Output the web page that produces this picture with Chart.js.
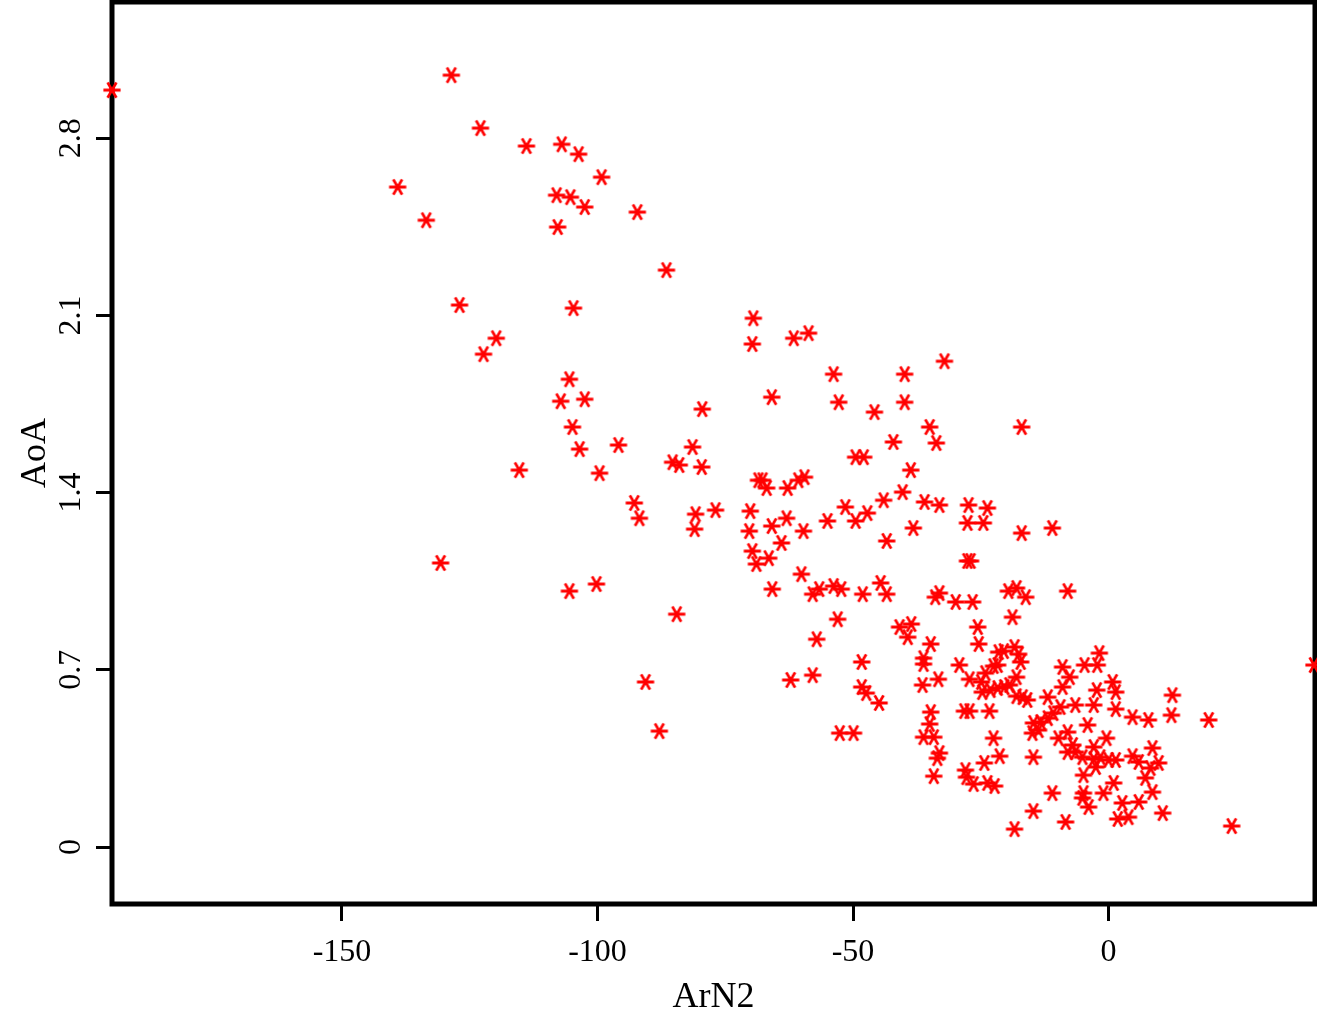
<!DOCTYPE html>
<html><head><meta charset="utf-8">
<script src="https://cdn.jsdelivr.net/npm/chart.js@4"></script>
<style>html,body{margin:0;padding:0;background:#fff}#wrap{width:1317px;height:1017px}</style>
</head><body><div id="wrap"><canvas id="c" width="1317" height="1017"></canvas></div>
<script>
const xTitle = 'ArN2';
const yTitle = 'AoA';
const xTickValues = [-150, -100, -50, 0];
const yTickValues = [0, 0.7, 1.4, 2.1, 2.8];
const xRange = [-195, 40.4];
const yRange = [-0.225, 3.338];

const xValues = [
-195.0, -128.6, -122.9, -113.9, -107.0, -103.7, -99.2, -139.1, -108.0, -105.3, -102.5, -133.5, -92.2, -107.8, -86.5, -127.0, -104.7, -119.8, -122.3, -105.5, -107.2, -102.5, -79.5, -104.9, -81.4, -103.5, -95.9, -115.3, -99.6, -85.3, -84.0, -79.6, -92.8, -91.8, -80.8, -76.9, -81.0, -130.7, -105.5, -100.2, -84.5, -90.6, -87.9,
-69.5, -69.7, -61.6, -58.7, -32.1, -53.8, -39.9, -65.9, -52.8, -39.9, -45.8, -35.0, -17.0, -33.7, -42.1, -49.5, -47.9, -38.7, -68.5, -67.7, -66.9, -62.8, -60.7, -59.5, -70.1, -70.3, -65.9, -63.0, -59.7, -64.0, -69.7, -68.9, -66.5, -55.0, -51.5, -49.5, -47.2, -44.0, -40.3, -36.0, -33.1, -43.4, -38.2, -27.4, -23.7, -27.6, -24.5, -17.0, -11.0, -60.1, -65.8, -57.9, -56.6, -53.8, -52.3, -48.1, -44.6, -43.4, -27.6, -27.0, -33.9, -33.1, -29.9, -26.6, -19.6, -18.0, -16.2, -8.0, -18.8, -53.0, -57.1, -40.9, -38.6, -39.3, -34.8, -25.6, -25.4, -36.2, -36.2, -48.3, -29.2, -62.2, -57.9, -36.4, -33.3, -27.2, -24.1, -22.5, -21.5, -20.5, -18.4, -17.6, -17.2, -21.7, -18.0, -24.9, -24.7, -23.1, -21.7, -20.4, -19.4, -18.0, -16.8, -15.9, -48.3, -47.4, -44.9, -34.8, -35.0, -36.2, -34.2, -33.1, -33.5, -34.2, -28.2, -27.2, -23.3, -22.5, -21.3, -24.3, -28.0, -27.8, -26.4, -23.7, -22.3, -52.6, -49.9,
-9.0, -7.6, -9.0, -4.7, -2.2, -1.8, -2.3, 0.8, 1.4, 1.4, 4.7, 7.8, 12.5, 12.3, 19.6, 40.2, -11.9, -6.5, -2.9, -9.4, -10.8, -11.9, -13.3, -14.7, -13.7, -14.9, -4.1, -8.0, -9.8, -0.4, -2.9, -7.0, -8.0, -6.5, -5.1, -2.9, -1.6, 0.0, 1.4, 4.7, 5.9, 8.6, 9.8, 8.2, 7.2, 8.6, 5.9, 10.6, -14.7, -4.9, -2.5, 1.0, -1.0, -4.9, -5.1, -3.9, -11.0, 2.7, 1.8, 3.9, -14.7, -8.4, -18.4, 24.1
];
const yValues = [
2.990, 3.049, 2.840, 2.769, 2.776, 2.737, 2.646, 2.607, 2.575, 2.567, 2.528, 2.476, 2.508, 2.449, 2.279, 2.141, 2.129, 2.010, 1.947, 1.848, 1.761, 1.769, 1.730, 1.659, 1.580, 1.572, 1.588, 1.489, 1.477, 1.520, 1.509, 1.501, 1.359, 1.299, 1.315, 1.331, 1.256, 1.122, 1.011, 1.039, 0.920, 0.652, 0.458,
2.089, 1.987, 2.010, 2.030, 1.919, 1.868, 1.868, 1.777, 1.757, 1.757, 1.718, 1.659, 1.659, 1.596, 1.600, 1.540, 1.540, 1.489, 1.449, 1.449, 1.418, 1.418, 1.449, 1.461, 1.327, 1.248, 1.268, 1.299, 1.248, 1.201, 1.169, 1.118, 1.141, 1.288, 1.343, 1.288, 1.319, 1.370, 1.402, 1.363, 1.351, 1.209, 1.260, 1.351, 1.339, 1.280, 1.280, 1.240, 1.260, 1.078, 1.019, 0.999, 1.019, 1.031, 1.019, 0.999, 1.043, 0.999, 1.130, 1.130, 0.987, 1.003, 0.968, 0.968, 1.011, 1.023, 0.987, 1.011, 0.908, 0.900, 0.821, 0.869, 0.881, 0.829, 0.802, 0.869, 0.802, 0.746, 0.723, 0.731, 0.719, 0.660, 0.679, 0.640, 0.663, 0.663, 0.687, 0.715, 0.770, 0.774, 0.790, 0.762, 0.731, 0.719, 0.671, 0.652, 0.612, 0.620, 0.628, 0.632, 0.640, 0.596, 0.592, 0.581, 0.632, 0.608, 0.569, 0.533, 0.486, 0.434, 0.434, 0.371, 0.351, 0.280, 0.537, 0.537, 0.537, 0.430, 0.359, 0.332, 0.304, 0.276, 0.249, 0.253, 0.241, 0.450, 0.450,
0.711, 0.671, 0.632, 0.719, 0.719, 0.766, 0.620, 0.652, 0.612, 0.545, 0.513, 0.502, 0.600, 0.521, 0.502, 0.719, 0.592, 0.561, 0.561, 0.553, 0.529, 0.509, 0.494, 0.490, 0.462, 0.450, 0.482, 0.454, 0.430, 0.430, 0.395, 0.403, 0.375, 0.375, 0.355, 0.348, 0.355, 0.344, 0.344, 0.359, 0.336, 0.391, 0.332, 0.312, 0.273, 0.217, 0.178, 0.134, 0.355, 0.284, 0.316, 0.253, 0.213, 0.213, 0.194, 0.158, 0.213, 0.174, 0.111, 0.118, 0.142, 0.099, 0.071, 0.083
];

// asterisk marker (horizontal bar + two diagonals)
function makeAsterisk() {
  const c = document.createElement('canvas');
  c.width = 22; c.height = 22;
  const g = c.getContext('2d');
  g.strokeStyle = '#ff0000';
  g.lineWidth = 2.8;
  g.beginPath();
  g.moveTo(11 - 8.6, 11); g.lineTo(11 + 8.6, 11);
  g.moveTo(11 - 4.4, 11 - 7.6); g.lineTo(11 + 4.4, 11 + 7.6);
  g.moveTo(11 + 4.4, 11 - 7.6); g.lineTo(11 - 4.4, 11 + 7.6);
  g.stroke();
  return c;
}

const points = xValues.map((x, i) => ({x: x, y: yValues[i]}));

const framePlugin = {
  id: 'frame',
  beforeDatasetsDraw(chart) {
    const {ctx, chartArea: a} = chart;
    ctx.save();
    ctx.strokeStyle = '#000';
    ctx.lineWidth = 5;
    ctx.strokeRect(a.left, a.top, a.right - a.left, a.bottom - a.top);
    ctx.restore();
  }
};

function noPad(s) { s.paddingTop = 0; s.paddingBottom = 0; s.paddingLeft = 0; s.paddingRight = 0; }

const serif = '"Liberation Serif", "Times New Roman", serif';

new Chart(document.getElementById('c'), {
  type: 'scatter',
  data: {
    datasets: [{
      data: points,
      pointStyle: makeAsterisk(),
      pointRadius: 8,
      clip: false
    }]
  },
  options: {
    responsive: false,
    animation: false,
    devicePixelRatio: 1,
    layout: {autoPadding: false, padding: {top: 2, right: 2, left: 0, bottom: 0}},
    plugins: {legend: {display: false}, tooltip: {enabled: false}},
    scales: {
      x: {
        type: 'linear',
        min: xRange[0], max: xRange[1],
        afterFit: s => { s.height = 113; noPad(s); },
        afterBuildTicks: s => { s.ticks = xTickValues.map(v => ({value: v})); },
        grid: {display: true, drawOnChartArea: false, drawTicks: true, tickLength: 17, tickWidth: 3, tickColor: '#000'},
        border: {display: false},
        ticks: {color: '#000', font: {family: serif, size: 32}, padding: 12, maxRotation: 0, callback: v => String(v)},
        title: {display: true, text: xTitle, color: '#000', font: {family: serif, size: 36, lineHeight: 1.0}, padding: {top: 0, bottom: 1}}
      },
      y: {
        type: 'linear',
        min: yRange[0], max: yRange[1],
        afterFit: s => { s.width = 112; noPad(s); },
        afterBuildTicks: s => { s.ticks = yTickValues.map(v => ({value: v})); },
        grid: {display: true, drawOnChartArea: false, drawTicks: true, tickLength: 16, tickWidth: 3, tickColor: '#000'},
        border: {display: false},
        ticks: {color: '#000', font: {family: serif, size: 32}, padding: 4, minRotation: 90, maxRotation: 90, crossAlign: 'center', callback: v => String(v)},
        title: {display: true, text: yTitle, color: '#000', font: {family: serif, size: 36, lineHeight: 1.0}, padding: {top: 18, bottom: 0}}
      }
    }
  },
  plugins: [framePlugin]
});
</script>
</body></html>
